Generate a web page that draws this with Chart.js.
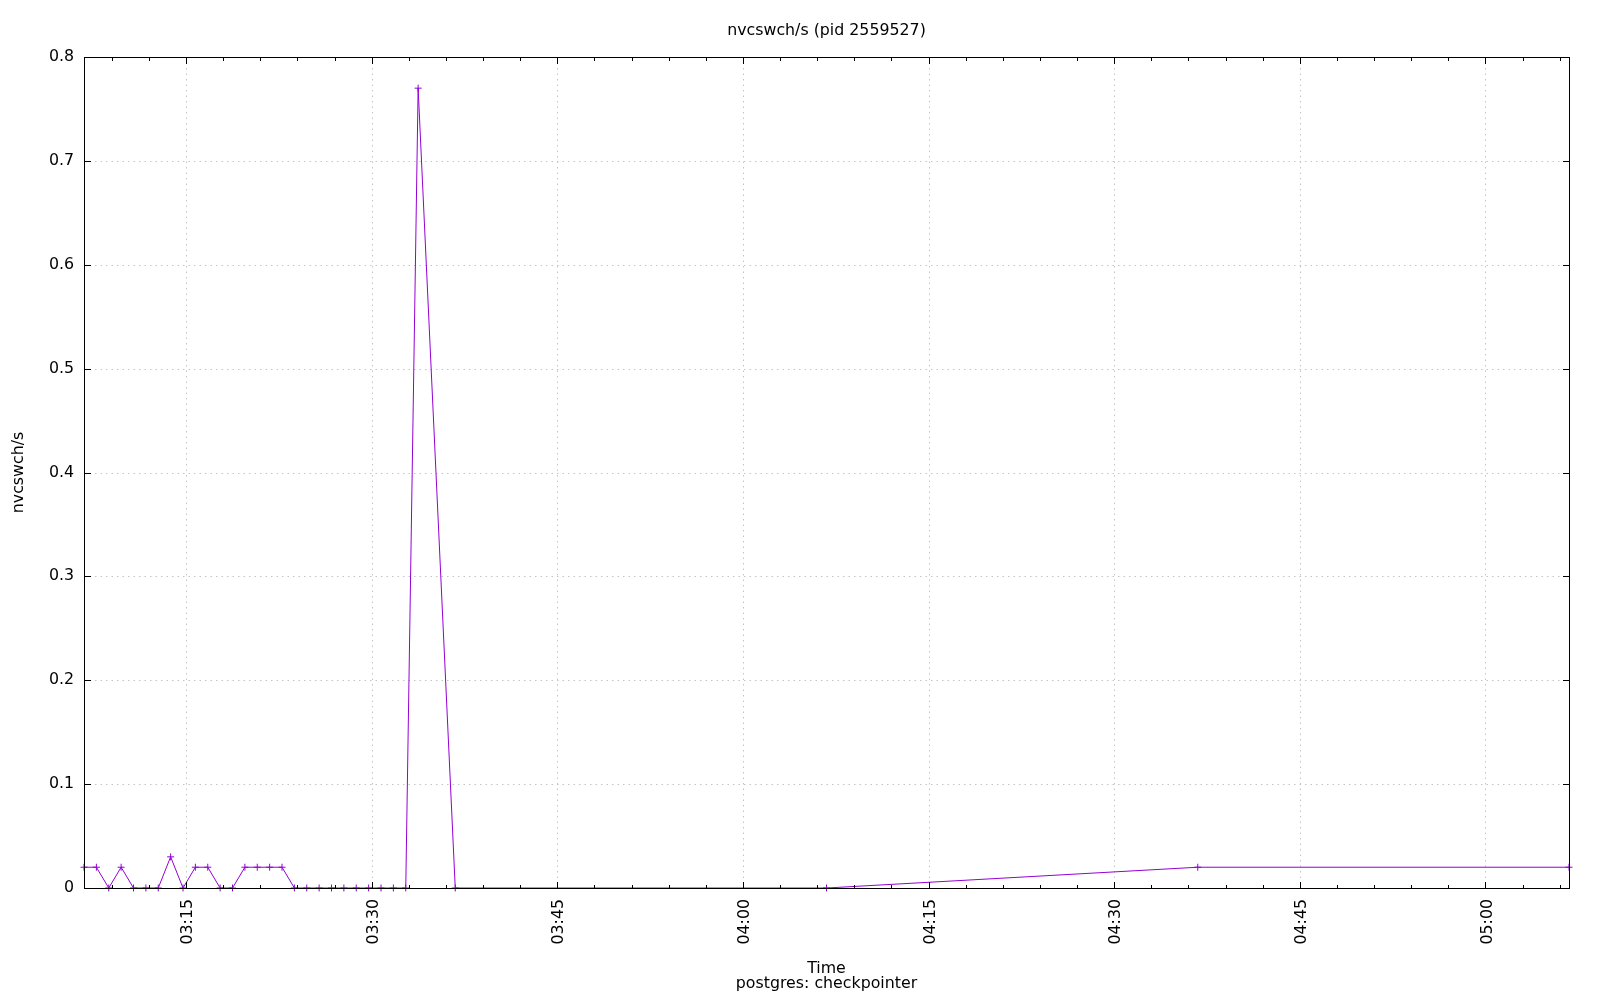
<!DOCTYPE html>
<html>
<head>
<meta charset="utf-8">
<script src="https://cdn.jsdelivr.net/npm/chart.js@4.4.0/dist/chart.umd.min.js"></script>
<style>
  html, body { margin: 0; padding: 0; background: #ffffff; }
  #wrap { width: 1600px; height: 1000px; }
</style>
</head>
<body>
<div id="wrap"><canvas id="c" width="1600" height="1000"></canvas></div>
<script>
// ---- data ----
const sampleTimes = [
  '03:06:45','03:07:45','03:08:45','03:09:45','03:10:45','03:11:45','03:12:45','03:13:45',
  '03:14:45','03:15:45','03:16:45','03:17:45','03:18:45','03:19:45','03:20:45','03:21:45',
  '03:22:45','03:23:45','03:24:45','03:25:45','03:26:45','03:27:45','03:28:45','03:29:45',
  '03:30:45','03:31:45','03:32:45','03:33:45','03:36:45','04:06:45','04:36:45','05:06:45'
];
const nvcswchValues = [
  0.02, 0.02, 0, 0.02, 0, 0, 0, 0.03,
  0, 0.02, 0.02, 0, 0, 0.02, 0.02, 0.02,
  0.02, 0, 0, 0, 0, 0, 0, 0,
  0, 0, 0, 0.77, 0, 0, 0.02, 0.02
];
const xTickLabels = ['03:15','03:30','03:45','04:00','04:15','04:30','04:45','05:00'];
const xMinorStepMinutes = 3;
const yTickValues = [0, 0.1, 0.2, 0.3, 0.4, 0.5, 0.6, 0.7, 0.8];
const chartTitle = 'nvcswch/s (pid 2559527)';
const yTitle = 'nvcswch/s';
const xTitle = ['Time', 'postgres: checkpointer'];
const seriesColor = '#9400d3';

// ---- helpers ----
function toMinutes(s) {
  const p = s.split(':').map(Number);
  return p[0] * 60 + p[1] + (p[2] || 0) / 60;
}
function fmt(m) {
  const h = Math.floor(m / 60), mm = Math.round(m - h * 60);
  return String(h).padStart(2, '0') + ':' + String(mm).padStart(2, '0');
}
const xs = sampleTimes.map(toMinutes);
const points = xs.map((x, i) => ({ x: x, y: nvcswchValues[i] }));
const xMin = xs[0], xMax = xs[xs.length - 1];
const majorX = xTickLabels.map(toMinutes);
const minorX = [];
for (let v = Math.ceil(xMin / xMinorStepMinutes) * xMinorStepMinutes; v <= xMax; v += xMinorStepMinutes) minorX.push(v);

const FONT = 'DejaVu Sans';
const FS = 15.8;

const gnuFrame = {
  id: 'gnuFrame',
  beforeDatasetsDraw(chart) {
    const { ctx, chartArea: a, scales: { x, y } } = chart;
    ctx.save();
    ctx.strokeStyle = '#c4c4c4';
    ctx.lineWidth = 1;
    ctx.setLineDash([1.5, 4]);
    ctx.beginPath();
    majorX.forEach(v => {
      const px = Math.round(x.getPixelForValue(v)) + 0.5;
      ctx.moveTo(px, a.top); ctx.lineTo(px, a.bottom);
    });
    yTickValues.slice(1, -1).forEach(v => {
      const py = Math.round(y.getPixelForValue(v)) + 0.5;
      ctx.moveTo(a.left, py); ctx.lineTo(a.right, py);
    });
    ctx.stroke();
    ctx.restore();
  },
  afterDatasetsDraw(chart) {
    const { ctx, chartArea: a, scales: { x, y } } = chart;
    const L = Math.round(a.left) + 0.5, R = Math.round(a.right) + 0.5;
    const T = Math.round(a.top) + 0.5, B = Math.round(a.bottom) + 0.5;
    ctx.save();
    ctx.strokeStyle = '#000';
    ctx.lineWidth = 1;
    ctx.beginPath();
    minorX.forEach(v => {
      const isMajor = majorX.some(m => Math.abs(m - v) < 1e-6);
      const len = isMajor ? 6.5 : 3.5;
      const px = Math.round(x.getPixelForValue(v)) + 0.5;
      ctx.moveTo(px, B); ctx.lineTo(px, B - len);
      ctx.moveTo(px, T); ctx.lineTo(px, T + len);
    });
    yTickValues.forEach(v => {
      const py = Math.round(y.getPixelForValue(v)) + 0.5;
      ctx.moveTo(L, py); ctx.lineTo(L + 6.5, py);
      ctx.moveTo(R, py); ctx.lineTo(R - 6.5, py);
    });
    ctx.stroke();
    ctx.strokeRect(L, T, R - L, B - T);
    ctx.restore();
  }
};

new Chart(document.getElementById('c'), {
  type: 'line',
  data: {
    datasets: [{
      label: yTitle,
      data: points,
      borderColor: seriesColor,
      backgroundColor: seriesColor,
      borderWidth: 1,
      tension: 0,
      fill: false,
      pointStyle: 'cross',
      pointRadius: 3.5,
      pointBorderWidth: 1,
      pointBorderColor: seriesColor,
      pointHoverRadius: 3.5,
      clip: 8
    }]
  },
  options: {
    responsive: false,
    animation: false,
    events: [],
    layout: { padding: { left: 0, right: 31, top: 0, bottom: 0 } },
    plugins: {
      legend: { display: false },
      tooltip: { enabled: false },
      title: {
        display: true,
        fullSize: false,
        text: chartTitle,
        color: '#000',
        font: { family: FONT, size: FS, weight: 'normal', lineHeight: '15.5px' },
        padding: { top: 22.75, bottom: 18.75 }
      }
    },
    scales: {
      x: {
        type: 'linear',
        position: 'bottom',
        min: xMin,
        max: xMax,
        afterBuildTicks: s => { s.ticks = majorX.map(v => ({ value: v })); },
        afterFit: s => { s.height = 112; },
        grid: { display: false, drawTicks: false, tickLength: 0 },
        border: { display: false },
        ticks: {
          autoSkip: false,
          minRotation: 90,
          maxRotation: 90,
          padding: 11,
          labelOffset: 2,
          color: '#000',
          font: { family: FONT, size: FS },
          callback: v => fmt(v)
        },
        title: {
          display: true,
          text: xTitle,
          color: '#000',
          font: { family: FONT, size: FS, lineHeight: '15px' },
          padding: { top: 0, bottom: 8.4 }
        }
      },
      y: {
        min: 0,
        max: 0.8,
        afterBuildTicks: s => { s.ticks = yTickValues.map(v => ({ value: v })); },
        afterFit: s => { s.width = 84; },
        grid: { display: false, drawTicks: false, tickLength: 0 },
        border: { display: false },
        ticks: {
          padding: 10,
          color: '#000',
          font: { family: FONT, size: FS },
          callback: v => (v === 0 ? '0' : v.toFixed(1))
        },
        title: {
          display: true,
          text: yTitle,
          color: '#000',
          font: { family: FONT, size: FS, lineHeight: '15.5px' },
          padding: { top: 11.5, bottom: 0 }
        }
      }
    }
  },
  plugins: [gnuFrame]
});
</script>
</body>
</html>
